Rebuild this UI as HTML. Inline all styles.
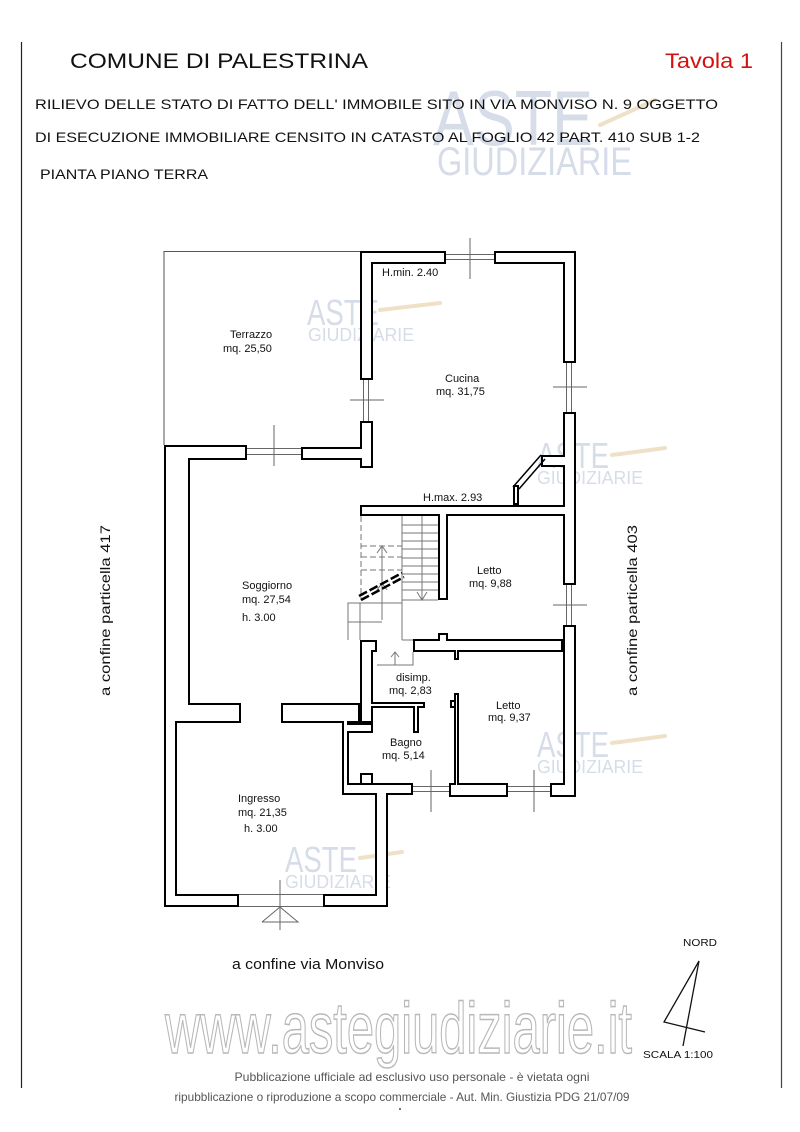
<!DOCTYPE html>
<html><head><meta charset="utf-8"><style>
html,body{margin:0;padding:0;background:#fff;}
svg{display:block;}
text{font-family:"Liberation Sans",sans-serif;}
</style></head><body>
<svg width="800" height="1132" viewBox="0 0 800 1132" xmlns="http://www.w3.org/2000/svg">
<line x1="21.5" y1="42" x2="21.5" y2="1088" stroke="#222" stroke-width="1.2"/>
<line x1="781.5" y1="42" x2="781.5" y2="1088" stroke="#444" stroke-width="1.2"/>

<g fill="#d6dce8" font-family="Liberation Sans,sans-serif">
<text x="433" y="145" font-size="78" textLength="160" lengthAdjust="spacingAndGlyphs">ASTE</text>
<text x="437" y="175" font-size="40" textLength="195" lengthAdjust="spacingAndGlyphs">GIUDIZIARIE</text>
<text x="307" y="325" font-size="36" textLength="72" lengthAdjust="spacingAndGlyphs">ASTE</text>
<text x="308" y="341" font-size="18" textLength="106" lengthAdjust="spacingAndGlyphs">GIUDIZIARIE</text>
<text x="537" y="468" font-size="36" textLength="72" lengthAdjust="spacingAndGlyphs">ASTE</text>
<text x="537" y="484" font-size="18" textLength="106" lengthAdjust="spacingAndGlyphs">GIUDIZIARIE</text>
<text x="537" y="757" font-size="36" textLength="72" lengthAdjust="spacingAndGlyphs">ASTE</text>
<text x="537" y="773" font-size="18" textLength="106" lengthAdjust="spacingAndGlyphs">GIUDIZIARIE</text>
<text x="285" y="872" font-size="36" textLength="72" lengthAdjust="spacingAndGlyphs">ASTE</text>
<text x="285" y="888" font-size="18" textLength="106" lengthAdjust="spacingAndGlyphs">GIUDIZIARIE</text>
</g>
<g stroke="#efe0c8" stroke-width="4" stroke-linecap="round">
<line x1="600" y1="125" x2="655" y2="100"/><line x1="380" y1="310" x2="440" y2="303"/>
<line x1="612" y1="455" x2="665" y2="448"/><line x1="612" y1="743" x2="665" y2="736"/>
<line x1="360" y1="858" x2="402" y2="852"/>
</g>

<text x="70" y="68" font-size="21" textLength="298" lengthAdjust="spacingAndGlyphs" fill="#111">COMUNE DI  PALESTRINA</text>
<text x="665" y="68" font-size="21" textLength="88" lengthAdjust="spacingAndGlyphs" fill="#d41010">Tavola 1</text>
<text x="35" y="109" font-size="14" textLength="683" lengthAdjust="spacingAndGlyphs" fill="#111">RILIEVO DELLE STATO DI FATTO DELL' IMMOBILE  SITO IN VIA MONVISO  N. 9  OGGETTO</text>
<text x="35" y="142" font-size="14" textLength="665" lengthAdjust="spacingAndGlyphs" fill="#111">DI ESECUZIONE IMMOBILIARE CENSITO IN CATASTO AL FOGLIO 42 PART. 410 SUB 1-2</text>
<text x="40" y="179" font-size="14" textLength="168" lengthAdjust="spacingAndGlyphs" fill="#111">PIANTA PIANO TERRA</text>

<polyline points="164,445 164,251.5 360,251.5" fill="none" stroke="#555" stroke-width="1"/>

<g fill="#000">
<rect x="360" y="251" width="13" height="129"/>
<rect x="360" y="251" width="86" height="13"/>
<rect x="494" y="251" width="82" height="13"/>
<rect x="563" y="251" width="13" height="112"/>
<rect x="563" y="412" width="13" height="173"/>
<rect x="563" y="625" width="13" height="172"/>
<rect x="360" y="421" width="13" height="47"/>
<rect x="301" y="447" width="72" height="13"/>
<rect x="164" y="445" width="83" height="15"/>
<rect x="164" y="445" width="26" height="278"/>
<rect x="164" y="703" width="77" height="20"/>
<rect x="164" y="703" width="13" height="204"/>
<rect x="164" y="894" width="75" height="13"/>
<rect x="323" y="894" width="65" height="13"/>
<rect x="375" y="783" width="13" height="124"/>
<rect x="281" y="703" width="79" height="20"/>
<rect x="360" y="640" width="13" height="83"/>
<rect x="360" y="640" width="17" height="12"/>
<rect x="342" y="703" width="7" height="92"/>
<rect x="342" y="783" width="71" height="12"/>
<rect x="342" y="723" width="31" height="10"/>
<rect x="360" y="773" width="13" height="12"/>
<rect x="360" y="702" width="65" height="6"/>
<rect x="413" y="702" width="6" height="31"/>
<rect x="454" y="693" width="5" height="102"/>
<rect x="450" y="700" width="6" height="8"/>
<rect x="449" y="783" width="59" height="14"/>
<rect x="550" y="783" width="26" height="14"/>
<rect x="413" y="639" width="150" height="13"/>
<rect x="438" y="633" width="10" height="8"/>
<rect x="454" y="650" width="5" height="10"/>
<rect x="360" y="505" width="216" height="11"/>
<rect x="438" y="505" width="10" height="95"/>
<rect x="541" y="455" width="29" height="12"/>
<rect x="513" y="485" width="6" height="20"/>
</g>
<g fill="#fff">
<rect x="362" y="253" width="9" height="125"/>
<rect x="362" y="253" width="82" height="9"/>
<rect x="496" y="253" width="78" height="9"/>
<rect x="565" y="253" width="9" height="108"/>
<rect x="565" y="414" width="9" height="169"/>
<rect x="565" y="627" width="9" height="168"/>
<rect x="362" y="423" width="9" height="43"/>
<rect x="303" y="449" width="68" height="9"/>
<rect x="166" y="447" width="79" height="11"/>
<rect x="166" y="447" width="22" height="274"/>
<rect x="166" y="705" width="73" height="16"/>
<rect x="166" y="705" width="9" height="200"/>
<rect x="166" y="896" width="71" height="9"/>
<rect x="325" y="896" width="61" height="9"/>
<rect x="377" y="785" width="9" height="120"/>
<rect x="283" y="705" width="75" height="16"/>
<rect x="362" y="642" width="9" height="79"/>
<rect x="362" y="642" width="13" height="8"/>
<rect x="344" y="705" width="3" height="88"/>
<rect x="344" y="785" width="67" height="8"/>
<rect x="344" y="725" width="27" height="6"/>
<rect x="362" y="775" width="9" height="8"/>
<rect x="362" y="704" width="61" height="2"/>
<rect x="415" y="704" width="2" height="27"/>
<rect x="456" y="695" width="1" height="98"/>
<rect x="452" y="702" width="2" height="4"/>
<rect x="451" y="785" width="55" height="10"/>
<rect x="552" y="785" width="22" height="10"/>
<rect x="415" y="641" width="146" height="9"/>
<rect x="440" y="635" width="6" height="6"/>
<rect x="456" y="650" width="1" height="8"/>
<rect x="362" y="507" width="212" height="7"/>
<rect x="440" y="507" width="6" height="91"/>
<rect x="543" y="457" width="25" height="8"/>
<rect x="515" y="487" width="2" height="16"/>
</g>

<g stroke="#000" stroke-width="1.5" fill="none">
<line x1="541" y1="455" x2="513" y2="487"/>
<line x1="545" y1="459" x2="519" y2="489"/>
</g>

<g stroke="#666" stroke-width="1" fill="none">
<line x1="446" y1="254.5" x2="494" y2="254.5"/><line x1="446" y1="259.5" x2="494" y2="259.5"/>
<line x1="470" y1="238" x2="470" y2="279"/>
<line x1="363.5" y1="380" x2="363.5" y2="421"/><line x1="368.5" y1="380" x2="368.5" y2="421"/>
<line x1="350" y1="400" x2="384" y2="400"/>
<line x1="566.5" y1="363" x2="566.5" y2="412"/><line x1="571.5" y1="363" x2="571.5" y2="412"/>
<line x1="553" y1="387" x2="587" y2="387"/>
<line x1="247" y1="448.5" x2="301" y2="448.5"/><line x1="247" y1="454.5" x2="301" y2="454.5"/>
<line x1="274" y1="425" x2="274" y2="466"/>
<line x1="566.5" y1="585" x2="566.5" y2="625"/><line x1="571.5" y1="585" x2="571.5" y2="625"/>
<line x1="553" y1="605" x2="587" y2="605"/>
<line x1="413" y1="786.5" x2="449" y2="786.5"/><line x1="413" y1="791.5" x2="449" y2="791.5"/>
<line x1="431" y1="770" x2="431" y2="812"/>
<line x1="508" y1="786.5" x2="550" y2="786.5"/><line x1="508" y1="791.5" x2="550" y2="791.5"/>
<line x1="534" y1="770" x2="534" y2="812"/>
<line x1="239" y1="894.5" x2="323" y2="894.5"/><line x1="239" y1="906.5" x2="323" y2="906.5"/>
<line x1="280" y1="880" x2="280" y2="930"/>
<polyline points="262,922 280,907 298,922 262,922"/>
</g>

<g stroke="#777" stroke-width="1" fill="none">
<line x1="402" y1="516" x2="402" y2="640"/>
<line x1="422" y1="516" x2="422" y2="600"/>
<line x1="402" y1="525" x2="438" y2="525"/><line x1="402" y1="533" x2="438" y2="533"/>
<line x1="402" y1="541" x2="438" y2="541"/><line x1="402" y1="549" x2="438" y2="549"/>
<line x1="402" y1="558" x2="438" y2="558"/><line x1="402" y1="566" x2="438" y2="566"/>
<line x1="402" y1="574" x2="438" y2="574"/><line x1="402" y1="582" x2="438" y2="582"/>
<line x1="402" y1="590" x2="438" y2="590"/><line x1="402" y1="600" x2="438" y2="600"/>
<polyline points="417,592 422,600 427,592"/>
<line x1="402" y1="640" x2="413" y2="640"/>
<g stroke-dasharray="6,3">
<line x1="361" y1="516" x2="361" y2="600"/>
<line x1="361" y1="546" x2="402" y2="546"/>
<line x1="361" y1="557" x2="402" y2="557"/>
<line x1="361" y1="570" x2="402" y2="570"/>
</g>
<line x1="382" y1="546" x2="382" y2="620"/>
<polyline points="377,553 382,546 387,553"/>
<polyline points="377,590 382,583 387,590"/>
<polyline points="348,640 348,603 402,603"/>
<line x1="348" y1="622" x2="382" y2="622"/>
<line x1="360" y1="603" x2="360" y2="640"/>
<polyline points="377,665 413,665 413,652"/>
<line x1="395" y1="652" x2="395" y2="665"/>
<polyline points="391,657 395,652 399,657"/>
</g>
<g stroke="#000" stroke-width="2.5" stroke-dasharray="9,3">
<line x1="359" y1="596" x2="402" y2="573"/>
<line x1="361" y1="600" x2="404" y2="577"/>
</g>

<g font-size="11" fill="#111">
<text x="230" y="338">Terrazzo</text>
<text x="223" y="352">mq. 25,50</text>
<text x="382" y="276">H.min. 2.40</text>
<text x="445" y="382">Cucina</text>
<text x="436" y="395">mq. 31,75</text>
<text x="423" y="501">H.max. 2.93</text>
<text x="242" y="589">Soggiorno</text>
<text x="242" y="603">mq. 27,54</text>
<text x="242" y="621">h. 3.00</text>
<text x="477" y="574">Letto</text>
<text x="469" y="587">mq. 9,88</text>
<text x="396" y="681">disimp.</text>
<text x="389" y="694">mq. 2,83</text>
<text x="496" y="709">Letto</text>
<text x="488" y="721">mq. 9,37</text>
<text x="390" y="746">Bagno</text>
<text x="382" y="759">mq. 5,14</text>
<text x="238" y="802">Ingresso</text>
<text x="238" y="816">mq. 21,35</text>
<text x="244" y="832">h. 3.00</text>
</g>

<text transform="translate(110,696) rotate(-90)" font-size="14" textLength="171" lengthAdjust="spacingAndGlyphs" fill="#111">a confine particella 417</text>
<text transform="translate(637,696) rotate(-90)" font-size="14" textLength="171" lengthAdjust="spacingAndGlyphs" fill="#111">a confine particella 403</text>
<text x="232" y="969" font-size="15" textLength="152" lengthAdjust="spacingAndGlyphs" fill="#111">a confine via Monviso</text>

<text x="683" y="946" font-size="10" textLength="34" lengthAdjust="spacingAndGlyphs" fill="#111">NORD</text>
<g stroke="#111" stroke-width="1.3" fill="none">
<polyline points="699,961 664,1022 705,1032"/>
<line x1="699" y1="961" x2="683" y2="1046"/>
</g>
<text x="643" y="1058" font-size="10" textLength="70" lengthAdjust="spacingAndGlyphs" fill="#111">SCALA 1:100</text>

<text x="165" y="1053" font-size="72" textLength="467" lengthAdjust="spacingAndGlyphs" fill="#fff" stroke="#b8b8b8" stroke-width="1.5">www.astegiudiziarie.it</text>

<text x="412" y="1081" font-size="12" text-anchor="middle" fill="#555" textLength="355" lengthAdjust="spacingAndGlyphs">Pubblicazione ufficiale ad esclusivo uso personale - è vietata ogni</text>
<text x="402" y="1101" font-size="12" text-anchor="middle" fill="#555" textLength="455" lengthAdjust="spacingAndGlyphs">ripubblicazione o riproduzione a scopo commerciale - Aut. Min. Giustizia PDG 21/07/09</text>
<rect x="399" y="1108" width="2" height="2" fill="#777"/>
</svg>
</body></html>
